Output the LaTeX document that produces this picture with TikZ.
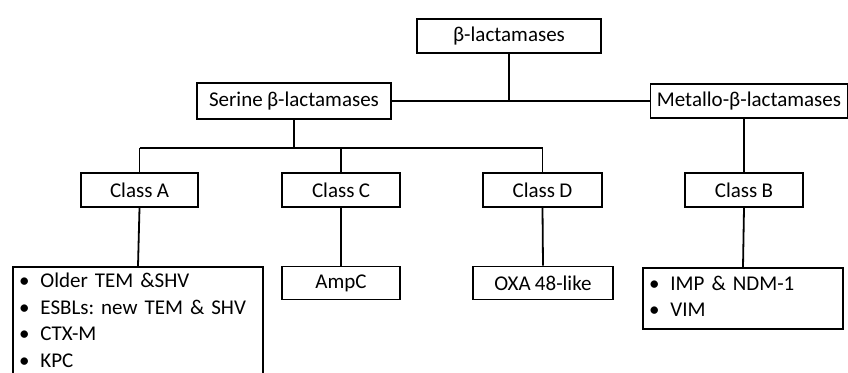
\documentclass[tikz,border=0pt]{standalone}
\usepackage{fontspec}
\setmainfont{Carlito}[WordSpace=0.9]
\newcommand{\blt}{\textbullet}

\begin{document}
\frenchspacing
\begin{tikzpicture}[x=1pt, y=1pt, line width=1.8pt,
    box/.style={draw, inner sep=0pt, minimum height=34pt, font=\fontsize{21}{26.5}\selectfont},
    listbox/.style={box, anchor=north, align=left, inner xsep=6pt}]
            \clip (0,0) rectangle (848,372);
            \node[box, minimum width=184pt] (beta) at (509,336) {β-lactamases};
            \node[box, minimum width=194pt, minimum height=36pt] (serine) at (294,271) {Serine β-lactamases};
            \node[box, minimum width=197pt] (metallo) at (749,271) {Metallo-β-lactamases};
            \node[box, minimum width=117pt] (classA) at (139.5,182) {Class A};
            \node[box, minimum width=118pt] (classC) at (341,182) {Class C};
            \node[box, minimum width=119pt] (classD) at (542.5,182) {Class D};
            \node[box, minimum width=118pt] (classB) at (744,182) {Class B};
            \node[box, minimum width=118pt, minimum height=33pt] (ampc) at (341,89) {AmpC};
            \node[box, minimum width=140pt, minimum height=33pt] (oxa) at (543,89) {OXA 48-like};
            \node[listbox, text width=238pt, inner ysep=2.5pt] (listA) at (138,106)
                {\begin{tabular}{@{}l@{\hspace{11pt}}l@{}}
                 \blt & Older TEM \&SHV\\ \blt & ESBLs: new TEM \& SHV\\ \blt & CTX-M\\ \blt & KPC
                 \end{tabular}};
            \node[listbox, text width=188pt, inner ysep=4pt] (listB) at (743,105)
                {\begin{tabular}{@{}l@{\hspace{11pt}}l@{}}
                 \blt & IMP \& NDM-1\\ \blt & VIM
                 \end{tabular}};
            \coordinate (bus) at (0,224);
            \draw (beta.south) -- (beta.south |- serine.east);
            \draw (serine.east) -- (metallo.west);
            \draw (serine.south) -- (serine.south |- bus);
            \draw (classA.north |- bus) -- (classD.north |- bus);
            \foreach \c in {classA, classC, classD} \draw (\c.north) -- (\c.north |- bus);
            \draw (classB.north) -- (classB.north |- metallo.south);
            \draw (classA.south) -- (listA.north);
            \draw (classC.south) -- (ampc.north);
            \draw (classD.south) -- (oxa.north);
            \draw (classB.south) -- (listB.north);
        \end{tikzpicture}
\end{document}
